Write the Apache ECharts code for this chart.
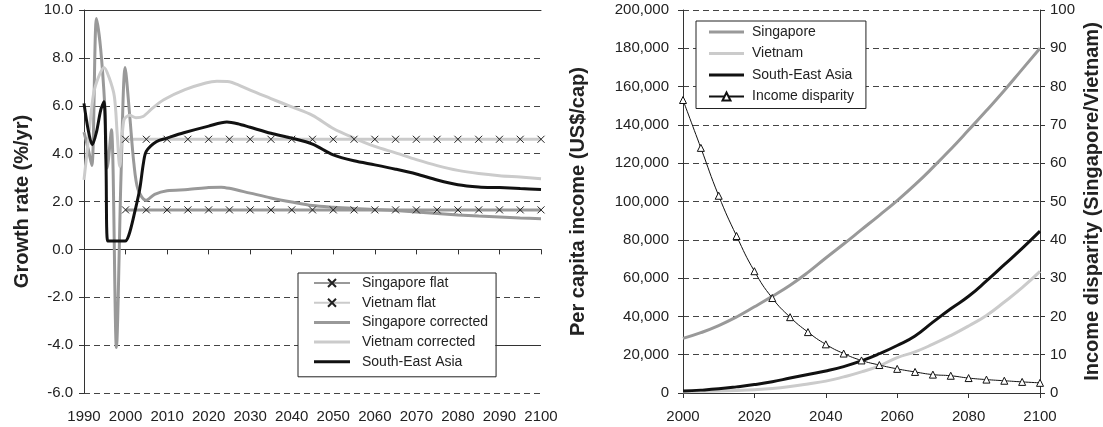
<!DOCTYPE html>
<html>
<head>
<meta charset="utf-8">
<script src="https://cdn.jsdelivr.net/npm/echarts@6/dist/echarts.min.js"></script>
<style>
  html, body { margin: 0; padding: 0; background: #fff; }
  #chart { width: 1103px; height: 427px; }
</style>
</head>
<body>
<div id="chart"></div>
<script>
// ---- Growth rates (%/yr), left panel ----
const sgCorrYears = [1990, 1991, 1991.9, 1993, 1994, 1995, 1995.6, 1996.6, 1997.8, 1998.9, 1999.9, 2001, 2002, 2003, 2004.9, 2007, 2010, 2015, 2020, 2023, 2025, 2030, 2035, 2040, 2045, 2050, 2055, 2060, 2065, 2070, 2075, 2080, 2085, 2090, 2095, 2100];
const sgCorrGrowth = [4.9, 4.2, 3.5, 9.65, 8.4, 6.0, 3.4, 5.0, -4.1, 3.0, 7.6, 5.6, 3.6, 2.5, 2.05, 2.3, 2.45, 2.5, 2.58, 2.6, 2.55, 2.35, 2.15, 1.98, 1.83, 1.76, 1.71, 1.67, 1.62, 1.56, 1.5, 1.44, 1.39, 1.35, 1.31, 1.28];

const vnCorrYears = [1990, 1991, 1992.3, 1993.5, 1994.8, 1996, 1997.3, 1998, 1998.6, 1999.6, 2001, 2002.5, 2004.2, 2006.5, 2009.2, 2014.3, 2019.3, 2022, 2025, 2027, 2030, 2035, 2040, 2045, 2050, 2055, 2060, 2065, 2070, 2075, 2080, 2085, 2090, 2095, 2100];
const vnCorrGrowth = [2.9, 4.5, 6.5, 7.2, 7.6, 7.2, 6.4, 4.8, 3.46, 5.4, 5.6, 5.5, 5.55, 5.9, 6.25, 6.67, 6.95, 7.02, 7.0, 6.88, 6.65, 6.3, 5.95, 5.6, 5.05, 4.65, 4.3, 4.03, 3.75, 3.5, 3.3, 3.17, 3.08, 3.02, 2.95];

const seaYears = [1990, 1991, 1992, 1993, 1994, 1994.8, 1995.3, 1995.7, 1999.9, 2000.8, 2002, 2003.4, 2004.3, 2005, 2007.4, 2010, 2014, 2020, 2024.4, 2027, 2030, 2035, 2040, 2045, 2050, 2055, 2060, 2065, 2070, 2075, 2080, 2085, 2090, 2095, 2100];
const seaGrowth = [6.1, 5.0, 4.37, 4.9, 5.8, 6.17, 3.5, 0.35, 0.35, 0.6, 1.4, 2.5, 3.6, 4.1, 4.5, 4.65, 4.87, 5.15, 5.32, 5.25, 5.1, 4.85, 4.65, 4.4, 3.95, 3.7, 3.53, 3.35, 3.15, 2.9, 2.7, 2.61, 2.58, 2.54, 2.5];

const flatYears = [2000, 2005, 2010, 2015, 2020, 2025, 2030, 2035, 2040, 2045, 2050, 2055, 2060, 2065, 2070, 2075, 2080, 2085, 2090, 2095, 2100];
const sgFlat = [1.65, 1.65, 1.65, 1.65, 1.65, 1.65, 1.65, 1.65, 1.65, 1.65, 1.65, 1.65, 1.65, 1.65, 1.65, 1.65, 1.65, 1.65, 1.65, 1.65, 1.65];
const vnFlat = [4.6, 4.6, 4.6, 4.6, 4.6, 4.6, 4.6, 4.6, 4.6, 4.6, 4.6, 4.6, 4.6, 4.6, 4.6, 4.6, 4.6, 4.6, 4.6, 4.6, 4.6];

// ---- Per capita income (US$/cap) and disparity, right panel ----
const incomeYears = [2000, 2005, 2010, 2015, 2020, 2025, 2030, 2035, 2040, 2045, 2050, 2055, 2060, 2065, 2070, 2075, 2080, 2085, 2090, 2095, 2100];
const sgIncome = [28500, 31500, 35200, 39700, 45000, 50500, 56300, 63000, 70500, 77800, 85300, 92800, 100500, 108800, 117800, 127300, 137300, 147500, 158000, 169000, 180000];
const vnIncome = [700, 850, 1050, 1350, 1750, 2400, 3400, 4700, 6200, 8400, 11000, 14200, 18500, 21500, 25500, 30000, 35000, 40500, 47500, 55000, 63500];
const seaIncome = [1000, 1500, 2200, 3200, 4400, 5900, 7800, 9700, 11500, 13800, 16800, 20500, 24800, 29800, 37000, 44000, 50500, 58500, 67000, 75500, 84500];
const disparity = [76.5, 64, 51.5, 41, 31.8, 24.8, 19.8, 15.9, 12.7, 10.3, 8.5, 7.3, 6.3, 5.5, 4.8, 4.5, 3.9, 3.5, 3.2, 2.9, 2.65];

const growthTicks = { min: -6, max: 10, step: 2 };
const incomeTicks = { min: 0, max: 200000, step: 20000 };
const disparityTicks = { min: 0, max: 100, step: 10 };

const FONT = 'Liberation Sans, Arial, Helvetica, sans-serif';
const SG = '#999999', VN = '#cbcbcb', SEA = '#111111';
const CROSS = 'path://M0,0L10,10M10,0L0,10';
// plain bar used as the legend key of lines drawn without markers
const BAR = 'path://M0,0M0,3.5H10V6.5H0Z M10,10';

const pairs = (xs, ys) => xs.map((x, i) => [x, ys[i]]);

const axisLine = { show: true, lineStyle: { color: '#333', width: 1 } };
const axisTick = { show: true, length: 5, lineStyle: { color: '#333' } };
const tickLabel = { fontFamily: FONT, fontSize: 15, color: '#222' };
const dashed = { show: true, lineStyle: { color: '#444', width: 1, type: [6, 4] } };
const titleStyle = { fontFamily: FONT, fontSize: 20, fontWeight: 'bold', color: '#222' };
const legendText = { fontFamily: FONT, fontSize: 14, color: '#222', lineHeight: 14 };

function topFrame(gridIndex, min, max) {
  return { gridIndex, type: 'value', position: 'top', min, max,
    axisLine, axisTick: { show: false }, axisLabel: { show: false }, splitLine: { show: false } };
}

function growthLine(name, data, color, smooth) {
  return { name, type: 'line', xAxisIndex: 0, yAxisIndex: 0, data, smooth,
    symbol: 'none', lineStyle: { color, width: 3 }, itemStyle: { color } };
}

function flatLine(name, data, color) {
  return { name, type: 'line', xAxisIndex: 0, yAxisIndex: 0, data,
    symbol: CROSS, symbolSize: 7, showAllSymbol: true,
    lineStyle: { color, width: 3 },
    itemStyle: { color: '#222', borderColor: '#222', borderWidth: 1 } };
}

function incomeLine(name, data, color) {
  return { name, type: 'line', xAxisIndex: 2, yAxisIndex: 1, data, smooth: true,
    symbol: 'none', lineStyle: { color, width: 3 }, itemStyle: { color } };
}

const chart = echarts.init(document.getElementById('chart'), null, { renderer: 'canvas' });

chart.setOption({
  animation: false,
  backgroundColor: '#fff',
  textStyle: { fontFamily: FONT },
  grid: [
    { left: 84, right: 562, top: 10, bottom: 34 },
    { left: 683, right: 63, top: 10, bottom: 34 }
  ],
  xAxis: [
    { gridIndex: 0, type: 'value', min: 1990, max: 2100, interval: 10,
      axisLine, axisTick, splitLine: { show: false },
      axisLabel: Object.assign({ margin: 16, formatter: v => String(v) }, tickLabel) },
    topFrame(0, 1990, 2100),
    { gridIndex: 1, type: 'value', min: 2000, max: 2100, interval: 20,
      axisLine, axisTick, splitLine: { show: false },
      axisLabel: Object.assign({ margin: 16, formatter: v => String(v) }, tickLabel) },
    topFrame(1, 2000, 2100)
  ],
  yAxis: [
    { gridIndex: 0, type: 'value', min: growthTicks.min, max: growthTicks.max, interval: growthTicks.step,
      axisLine, axisTick, splitLine: dashed,
      axisLabel: Object.assign({ margin: 11, formatter: v => v.toFixed(1) }, tickLabel),
      name: 'Growth rate (%/yr)', nameLocation: 'middle', nameGap: 52, nameRotate: 90,
      nameTextStyle: titleStyle },
    { gridIndex: 1, type: 'value', min: incomeTicks.min, max: incomeTicks.max, interval: incomeTicks.step,
      axisLine, axisTick, splitLine: dashed,
      axisLabel: Object.assign({ margin: 14, formatter: v => v.toLocaleString('en-US') }, tickLabel),
      name: 'Per capita income (US$/cap)', nameLocation: 'middle', nameGap: 95, nameRotate: 90,
      nameTextStyle: titleStyle },
    { gridIndex: 1, type: 'value', position: 'right',
      min: disparityTicks.min, max: disparityTicks.max, interval: disparityTicks.step,
      axisLine, axisTick, splitLine: { show: false },
      axisLabel: Object.assign({ margin: 10 }, tickLabel),
      name: 'Income disparity (Singapore/Vietnam)', nameLocation: 'middle', nameGap: 42, nameRotate: 90,
      nameTextStyle: titleStyle }
  ],
  legend: [
    { left: 298, top: 273, orient: 'vertical', symbolKeepAspect: false,
      data: [
        { name: 'Singapore flat' },
        { name: 'Vietnam flat' },
        { name: 'Singapore corrected', icon: BAR },
        { name: 'Vietnam corrected', icon: BAR },
        { name: 'South-East Asia', icon: BAR }
      ],
      itemWidth: 36, itemHeight: 10, itemGap: 5.7,
      padding: [3, 8, 8, 15],
      backgroundColor: '#fff', borderColor: '#222', borderWidth: 1, borderRadius: 0,
      textStyle: Object.assign({ padding: [0, 0, 0, 7] }, legendText) },
    { left: 696, top: 21, orient: 'vertical', symbolKeepAspect: false,
      data: [
        { name: 'Singapore', icon: BAR },
        { name: 'Vietnam', icon: BAR },
        { name: 'South-East Asia', icon: BAR },
        { name: 'Income disparity' }
      ],
      itemWidth: 35, itemHeight: 10, itemGap: 7.5,
      padding: [4, 12, 5, 12],
      backgroundColor: '#fff', borderColor: '#222', borderWidth: 1, borderRadius: 0,
      textStyle: Object.assign({ padding: [0, 0, 0, 3] }, legendText) }
  ],
  series: [
    Object.assign(flatLine('Singapore flat', pairs(flatYears, sgFlat), SG), {
      // short solid stretch of the -4.0 rule beside the legend box
      markLine: { silent: true, symbol: 'none', label: { show: false },
        lineStyle: { color: '#333', width: 1, type: 'solid' },
        data: [[{ coord: [2089, -4] }, { coord: [2100, -4] }]] } }),
    flatLine('Vietnam flat', pairs(flatYears, vnFlat), VN),
    growthLine('Singapore corrected', pairs(sgCorrYears, sgCorrGrowth), SG, 0.3),
    growthLine('Vietnam corrected', pairs(vnCorrYears, vnCorrGrowth), VN, 0.3),
    growthLine('South-East Asia', pairs(seaYears, seaGrowth), SEA, 0.3),
    incomeLine('Singapore', pairs(incomeYears, sgIncome), SG),
    incomeLine('Vietnam', pairs(incomeYears, vnIncome), VN),
    incomeLine('South-East Asia', pairs(incomeYears, seaIncome), SEA),
    { name: 'Income disparity', type: 'line', xAxisIndex: 2, yAxisIndex: 2,
      data: pairs(incomeYears, disparity), smooth: true,
      symbol: 'triangle', symbolSize: 7, showAllSymbol: true,
      lineStyle: { color: '#111', width: 1 },
      itemStyle: { color: '#fff', borderColor: '#111', borderWidth: 1 } }
  ]
});
</script>
</body>
</html>
